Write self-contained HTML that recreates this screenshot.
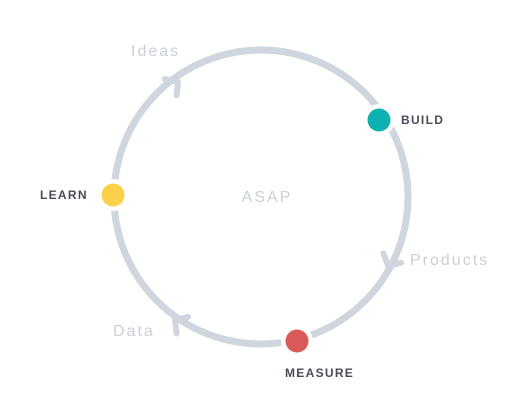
<!DOCTYPE html>
<html><head><style>
html,body{margin:0;padding:0;background:#fff;}
svg{display:block;}
text{font-family:"Liberation Sans",sans-serif;}
</style></head><body>
<svg width="523" height="407" viewBox="0 0 523 407">
<circle cx="261" cy="197" r="147" fill="none" stroke="#cfd6de" stroke-width="7"/>
<g fill="none" stroke="#cfd6de" stroke-width="6" stroke-linecap="round" stroke-linejoin="round">
<path d="M -9 -10 L 0 0 L -9 10" transform="translate(178,82) rotate(-35.8)"/>
<path d="M -9 -10 L 0 0 L -9 10" transform="translate(388,266) rotate(118.2)"/>
<path d="M -9 -10 L 0 0 L -9 10" transform="translate(175,320) rotate(215)"/>
</g>
<circle cx="379" cy="120" r="16" fill="#fff"/>
<circle cx="379" cy="120" r="11.5" fill="#0fb0b2"/>
<circle cx="113" cy="195" r="16" fill="#fff"/>
<circle cx="113" cy="195" r="11.5" fill="#fdd04b"/>
<circle cx="297" cy="341" r="16" fill="#fff"/>
<circle cx="297" cy="341" r="11.5" fill="#da5a5a"/>
<g fill="#c8d0d8" font-size="16" letter-spacing="2">
<text x="131" y="56">Ideas</text>
<text x="410" y="265">Products</text>
<text x="113" y="336">Data</text>
<text x="267" y="202" text-anchor="middle">ASAP</text>
</g>
<g fill="#4a4a5a" font-size="12" font-weight="bold" letter-spacing="1.3">
<text x="401" y="124">BUILD</text>
<text x="40" y="199">LEARN</text>
<text x="285" y="377">MEASURE</text>
</g>
</svg>
</body></html>
